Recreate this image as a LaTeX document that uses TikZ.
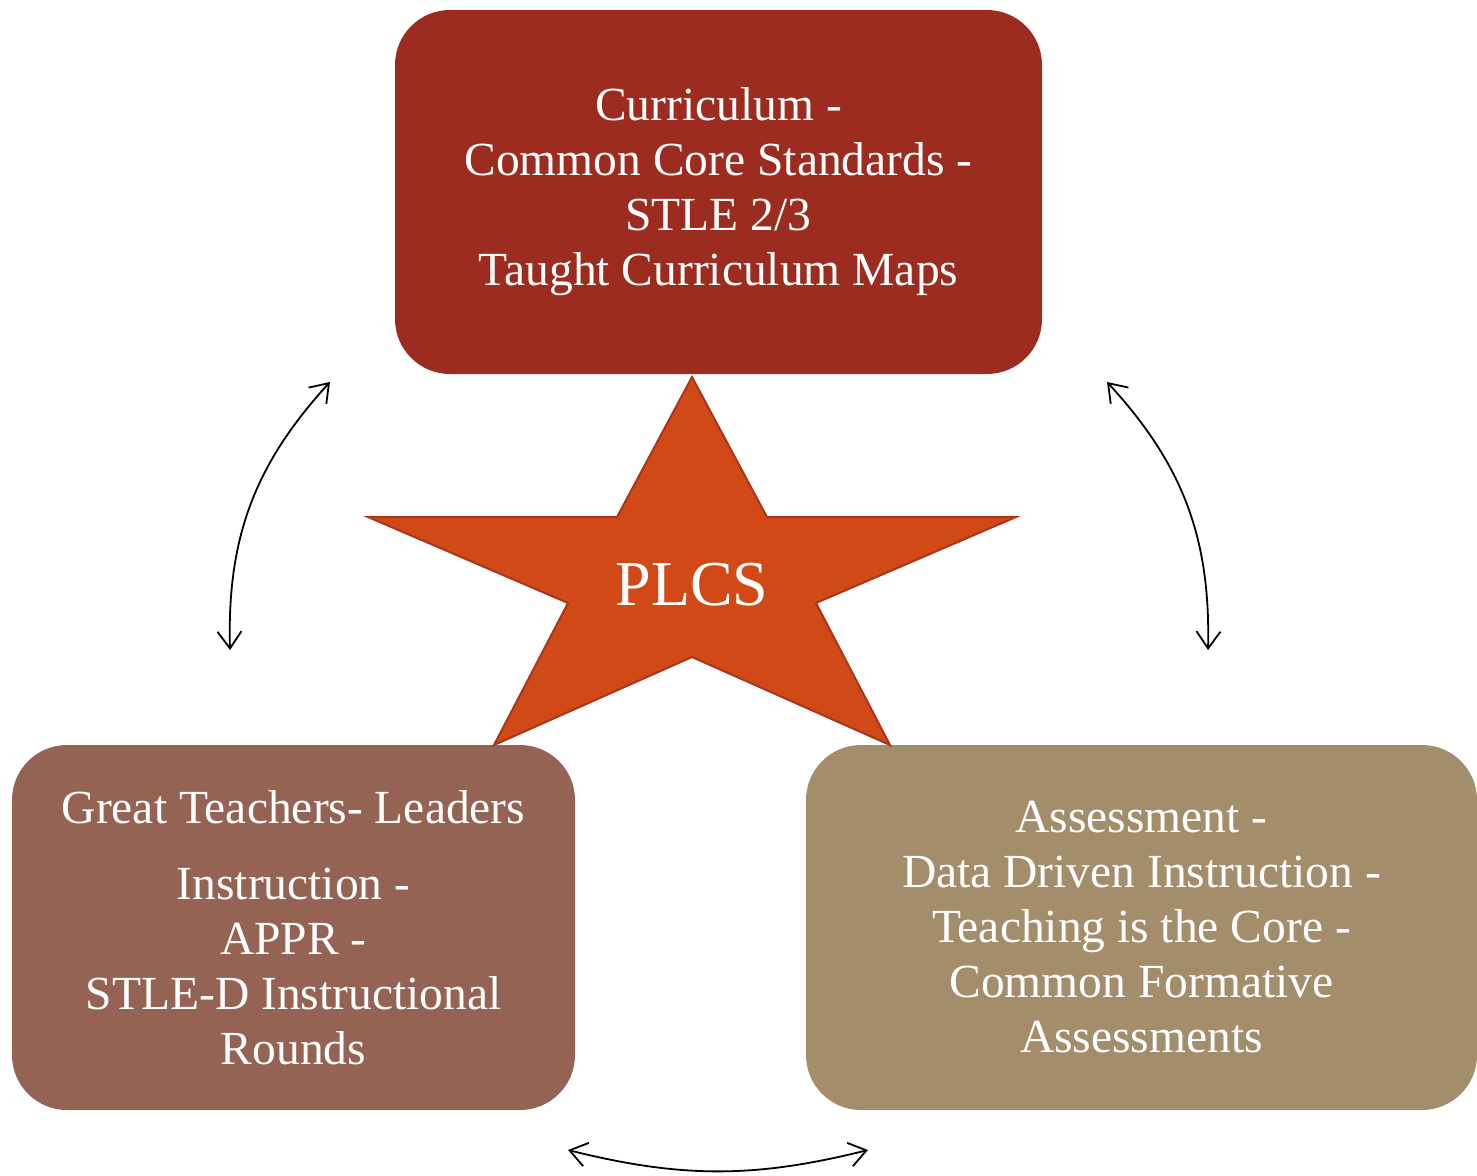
\documentclass[tikz,border=0pt]{standalone}
\usepackage{fontspec}
\setmainfont{Liberation Serif}
\usetikzlibrary{arrows.meta}
\definecolor{topred}{HTML}{9B2C1F}
\definecolor{blbrown}{HTML}{946353}
\definecolor{brtan}{HTML}{A38D6B}
\definecolor{starfill}{HTML}{D14917}
\definecolor{starline}{HTML}{A8361A}
\tikzset{
  box/.style={rounded corners=55pt, inner sep=0pt, align=center, text=white,
    font=\fontsize{47.5}{55}\selectfont},
  link/.style={line width=1.8pt, {Straight Barb[length=17pt,width=24pt]}-{Straight Barb[length=17pt,width=24pt]}},
}
\begin{document}
\begin{tikzpicture}[x=1pt,y=1pt]
\useasboundingbox (0,0) rectangle (1477,-1175);
\node[box, fill=topred, minimum width=647pt, minimum height=364pt] (top) at (718.5,-192)
  {Curriculum -\\Common Core Standards -\\STLE 2/3\\Taught Curriculum Maps};
\node[box, fill=blbrown, minimum width=563pt, minimum height=365pt] (bl) at (293.5,-927.5)
  {Great Teachers- Leaders\\[21pt]Instruction -\\APPR -\\STLE-D Instructional\\Rounds};
\node[box, fill=brtan, minimum width=671pt, minimum height=365pt] (br) at (1141.5,-927.5)
  {Assessment -\\Data Driven Instruction -\\Teaching is the Core -\\Common Formative\\Assessments};
\fill[starfill, draw=starline, line width=2pt, line join=miter]
  (692,-377) -- (767,-517) -- (1016,-517) -- (816,-603) -- (890,-745) -- (692,-657)
  -- (494,-745) -- (568,-603) -- (368,-517) -- (617,-517) -- cycle;
\node[text=white, font=\fontsize{64}{70}\selectfont] (plcs) at (692,-585) {PLCS};
\coordinate (la) at (230,-650);
\coordinate (lb) at (330,-382);
\coordinate (ra) at (1107,-382);
\coordinate (rb) at (1208,-650);
\coordinate (ba) at (568,-1150);
\coordinate (bb) at (868,-1150);
\draw[link] (la) to[bend left=22] (lb);
\draw[link] (ra) to[bend left=22] (rb);
\draw[link] (ba) to[bend right=14] (bb);
\end{tikzpicture}
\end{document}
